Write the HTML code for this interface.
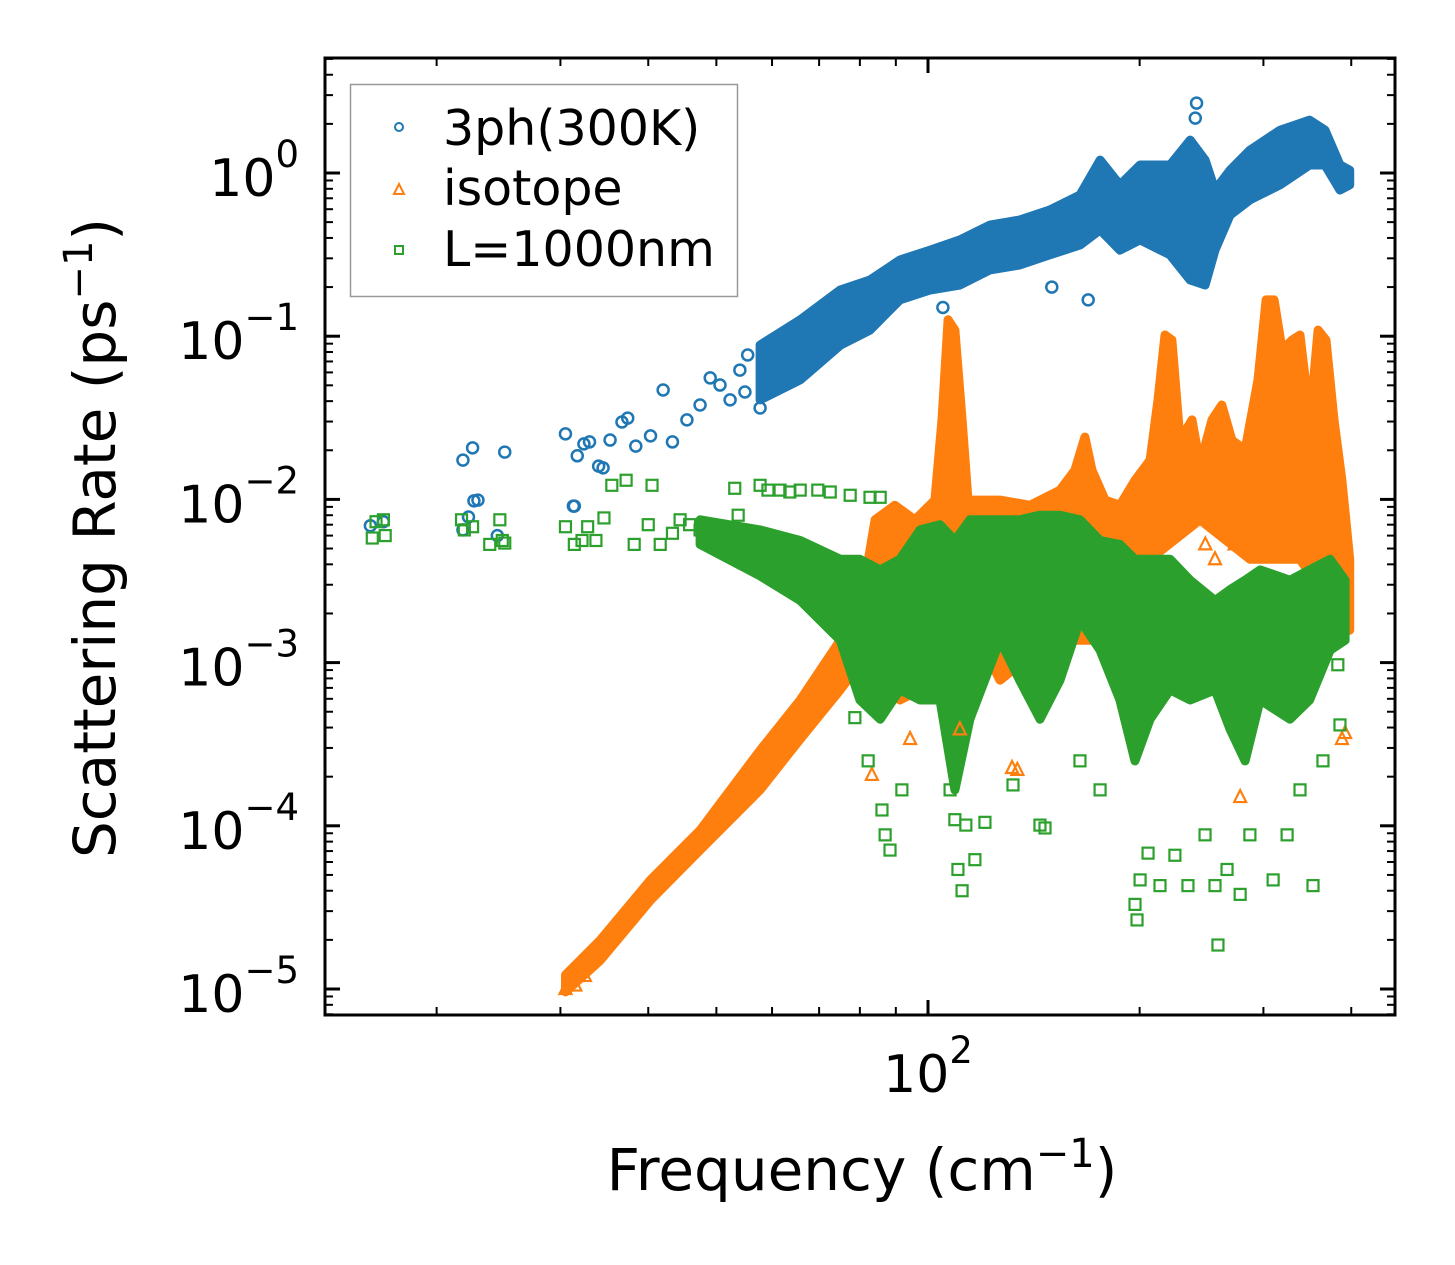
<!DOCTYPE html>
<html><head><meta charset="utf-8"><style>
body{margin:0;background:#fff}
svg{display:block}
text{font-family:"DejaVu Sans","Liberation Sans",sans-serif;fill:#000}
</style></head><body>
<svg id="chart" width="1455" height="1265" viewBox="0 0 1455 1265" xmlns="http://www.w3.org/2000/svg">
<rect width="1455" height="1265" fill="#fff"/>
<g id="bands"></g>
<g id="marks"></g>
<g id="axes"></g>
<g id="legend">
  <rect x="350.5" y="84.5" width="387" height="212" fill="#fff" stroke="#999" stroke-width="1.5"/>
  <g>
    <circle cx="399" cy="127" r="4" fill="none" stroke="#1f77b4" stroke-width="2"/>
    <text x="443" y="145" font-size="49">3ph(300K)</text>
  </g>
  <g>
    <path d="M394,194 L399,184 L404,194 Z" fill="none" stroke="#ff7f0e" stroke-width="2"/>
    <text x="443" y="205" font-size="49">isotope</text>
  </g>
  <g>
    <rect x="395" y="246" width="8" height="8" fill="none" stroke="#2ca02c" stroke-width="2"/>
    <text x="443" y="266" font-size="49">L=1000nm</text>
  </g>
</g>
<text x="862" y="1190" font-size="58" text-anchor="middle">Frequency (cm<tspan font-size="40" dy="-23">−1</tspan><tspan dy="23">)</tspan></text>
<text transform="translate(115,538) rotate(-90)" font-size="58" text-anchor="middle">Scattering Rate (ps<tspan font-size="40" dy="-23">−1</tspan><tspan dy="23">)</tspan></text>
</svg>
<script>
// ---- data ----
const blueBandFreq=[57.7,65.8,75.0,82.7,91.2,100.7,111,122.5,135,149,164.5,175.7,187.5,200.3,221,236,247.8,256,269,287,316.7,349,367,385.5,398];
const blueBandHigh=[0.0883,0.126,0.192,0.221,0.293,0.337,0.389,0.48,0.515,0.593,0.733,1.2,0.845,1.12,1.12,1.59,1.2,0.787,1.04,1.38,1.83,2.11,1.83,1.12,1.04];
const blueBandLow=[0.0407,0.054,0.088,0.109,0.167,0.192,0.206,0.255,0.273,0.315,0.362,0.448,0.337,0.389,0.315,0.221,0.206,0.337,0.553,0.684,0.845,1.12,1.12,0.787,0.845];
const bluePtFreq=[16.1,16.8,21.8,22.2,22.6,21.8,22.5,22.9,24.4,25.0,30.5,31.3,31.4,31.7,32.4,33.0,34.0,34.5,35.3,36.7,37.4,38.4,40.3,42.0,43.3,45.4,47.4,49.0,50.6,52.3,54.0,55.4,57.7,59.6,54.9,169,241,240,105,150];
const bluePtVal=[0.0069,0.0073,0.0065,0.0078,0.0098,0.0174,0.0207,0.0099,0.0060,0.0195,0.0252,0.0091,0.0091,0.0185,0.0219,0.0225,0.016,0.0156,0.0231,0.0298,0.0315,0.0212,0.0245,0.0468,0.0225,0.0307,0.0379,0.0555,0.0502,0.0407,0.062,0.0767,0.0363,0.0455,0.0455,0.167,2.68,2.17,0.15,0.2];

const orangeUpFreq=[30.5,34.2,40.3,47.4,57.7,65.8,75.0,80,84.1,89.7,95.8,102.3,104.7,106.8,109.2,111.8,114,126.6,139.7,154.1,161.8,167.2,171.1,178.6,187.5,197,207,212.4,217.3,222.3,228.3,237.4,243.7,253.5,261.8,270.6,282.5,294.7,302.6,310.7,318.9,329.6,338.2,349.4,358.8,368.3,378,388,398];
const orangeUpVal=[1.22e-5,2.0e-5,4.66e-5,9.4e-5,2.9e-4,5.9e-4,1.37e-3,0.0021,0.0075,0.0092,0.0075,0.0099,0.0307,0.126,0.109,0.0307,0.0099,0.0099,0.0092,0.0114,0.0151,0.0241,0.0151,0.0099,0.0092,0.0131,0.0174,0.0407,0.1017,0.0948,0.0231,0.0307,0.0163,0.0307,0.0379,0.0231,0.0201,0.054,0.167,0.167,0.0823,0.0948,0.1017,0.0307,0.109,0.0948,0.0307,0.0131,0.0043];
const orangeLowFreq=[30.5,34.2,40.3,47.4,57.7,65.8,75.0,82.7,91.2,104,111,126.6,149,175.7,207,243.7,287,338,398];
const orangeLowVal=[0.96e-5,1.5e-5,3.5e-5,7.1e-5,1.66e-4,3.4e-4,6.8e-4,1.19e-3,5.9e-4,7.8e-4,2.4e-3,7.8e-4,1.37e-3,1.37e-3,4.3e-3,7.5e-3,4.3e-3,4.3e-3,1.58e-3];
const orangePtFreq=[388,392,278,131.7,134,256,248,273,83.2,94.3,111,30.5,31.5,32.5];
const orangePtVal=[3.4e-4,3.7e-4,1.5e-4,2.26e-4,2.2e-4,4.3e-3,5.3e-3,5.3e-3,2.05e-4,3.4e-4,3.9e-4,1.0e-5,1.05e-5,1.2e-5];

const greenBandFreq=[47.4,57.7,65.8,75,80,85.5,91.2,97.4,104,109.2,114.7,126.6,135,144.3,154.1,164.5,175.7,187.5,197,207,221,236,256,269,282.5,296.8,327.3,349,373.2,392];
const greenBandHigh=[7.5e-3,6.5e-3,5.6e-3,4.3e-3,4.3e-3,3.7e-3,4.3e-3,6.5e-3,7.0e-3,5.6e-3,7.5e-3,7.5e-3,7.5e-3,8.0e-3,8.0e-3,7.5e-3,5.6e-3,5.3e-3,4.3e-3,4.3e-3,4.3e-3,3.2e-3,2.4e-3,2.8e-3,3.2e-3,3.7e-3,3.2e-3,3.7e-3,4.3e-3,3.2e-3];
const greenBandLow=[5.3e-3,3.4e-3,2.4e-3,1.37e-3,5.9e-4,4.5e-4,6.8e-4,5.9e-4,5.9e-4,1.66e-4,4.5e-4,1.37e-3,7.8e-4,4.5e-4,7.8e-4,1.82e-3,1.19e-3,5.9e-4,2.5e-4,4.5e-4,6.8e-4,5.9e-4,6.8e-4,3.9e-4,2.5e-4,5.9e-4,4.5e-4,5.9e-4,1.19e-3,1.37e-3];
const greenPtFreq=[16.2,16.4,16.8,16.9,21.7,21.9,22.5,23.8,24.6,24.8,25.0,30.5,31.4,32.2,32.8,33.7,34.6,35.5,37.2,38.2,40.0,40.5,41.6,43.3,44.4,45.8,47.4,49.3,50.9,53.1,53.7,57.7,59.2,61.6,63.6,65.8,69.7,72.6,77.5,82.7,85.5,
78.7,82.2,86.0,86.9,88.3,91.8,95.8,107.5,109.2,110.3,111.8,113.2,116.6,120.5,132.1,144.3,146.7,164.5,175.7,197,198.3,200.3,205.6,213.8,224.5,234.3,247.8,256,266.3,278,287,309.7,324.2,338.2,352.9,364.6,385.5,382.8,258.5];
const greenPtVal=[5.8e-3,7.3e-3,7.5e-3,6.0e-3,7.5e-3,6.5e-3,6.8e-3,5.3e-3,7.5e-3,5.6e-3,5.4e-3,6.8e-3,5.3e-3,5.6e-3,6.8e-3,5.6e-3,7.7e-3,0.0122,0.0131,5.3e-3,7.0e-3,0.0122,5.3e-3,6.2e-3,7.5e-3,7.0e-3,6.5e-3,5.6e-3,6.05e-3,0.0117,8.0e-3,0.0122,0.0114,0.0114,0.0111,0.0114,0.0114,0.0111,0.0106,0.0103,0.0103,
4.6e-4,2.5e-4,1.25e-4,8.8e-5,7.1e-5,1.66e-4,6.8e-4,1.66e-4,1.09e-4,5.4e-5,4.0e-5,1.01e-4,6.2e-5,1.05e-4,1.78e-4,1.01e-4,9.7e-5,2.5e-4,1.66e-4,3.3e-5,2.65e-5,4.66e-5,6.8e-5,4.3e-5,6.6e-5,4.3e-5,8.8e-5,4.3e-5,5.4e-5,3.8e-5,8.8e-5,4.66e-5,8.8e-5,1.66e-4,4.3e-5,2.5e-4,4.15e-4,9.7e-4,1.86e-5];

const yTickExp=[0,-1,-2,-3,-4,-5];
const yTickLabels=["0","−1","−2","−3","−4","−5"];
const xMinorTicks=[20,30,40,50,60,70,80,90,200,300,400];
const xMajorTicks=[100];
const xMajorLabels=["2"];

// ---- scales ----
const L=325,R=1395,T=58,B=1015;
const X=f=>928+703*Math.log10(f/100);
const Y=v=>173-163.2*Math.log10(v);
const NS="http://www.w3.org/2000/svg";
function mk(tag,parent){const e=document.createElementNS(NS,tag);parent.appendChild(e);return e;}
const bands=document.getElementById('bands'),marks=document.getElementById('marks'),axes=document.getElementById('axes');

function bandPoly(fs,hi,fs2,lo,color,name){
  const pts=[];
  for(let i=0;i<fs.length;i++)pts.push(X(fs[i]).toFixed(1)+','+Y(hi[i]).toFixed(1));
  for(let i=fs2.length-1;i>=0;i--)pts.push(X(fs2[i]).toFixed(1)+','+Y(lo[i]).toFixed(1));
  const p=mk('polygon',bands);
  
  
  p.setAttribute('points',pts.join(' '));
  p.setAttribute('fill',color);p.setAttribute('stroke',color);p.setAttribute('stroke-width','9');p.setAttribute('stroke-linejoin','round');
}
bandPoly(blueBandFreq,blueBandHigh,blueBandFreq,blueBandLow,'#1f77b4','band-3ph');
bandPoly(orangeUpFreq,orangeUpVal,orangeLowFreq,orangeLowVal,'#ff7f0e','band-isotope');
bandPoly(greenBandFreq,greenBandHigh,greenBandFreq,greenBandLow,'#2ca02c','band-l1000nm');

for(let i=0;i<bluePtFreq.length;i++){
  const c=mk('circle',marks);
  
  
  c.setAttribute('cx',X(bluePtFreq[i]));c.setAttribute('cy',Y(bluePtVal[i]));c.setAttribute('r',5.5);
  c.setAttribute('fill','none');c.setAttribute('stroke','#1f77b4');c.setAttribute('stroke-width','2.5');
}
for(let i=0;i<orangePtFreq.length;i++){
  const x=X(orangePtFreq[i]),y=Y(orangePtVal[i]);
  const p=mk('path',marks);
  
  
  p.setAttribute('d',`M${x-6},${y+5} L${x},${y-7} L${x+6},${y+5} Z`);
  p.setAttribute('fill','none');p.setAttribute('stroke','#ff7f0e');p.setAttribute('stroke-width','2.2');
}
for(let i=0;i<greenPtFreq.length;i++){
  const x=X(greenPtFreq[i]),y=Y(greenPtVal[i]);
  const r=mk('rect',marks);
  
  
  r.setAttribute('x',x-5.5);r.setAttribute('y',y-5.5);r.setAttribute('width',11);r.setAttribute('height',11);
  r.setAttribute('fill','none');r.setAttribute('stroke','#2ca02c');r.setAttribute('stroke-width','2.2');
}

// ---- axes ----
function line(x1,y1,x2,y2,w,name){const l=mk('line',axes);
  
  
  l.setAttribute('x1',x1);l.setAttribute('y1',y1);l.setAttribute('x2',x2);l.setAttribute('y2',y2);l.setAttribute('stroke','#000');l.setAttribute('stroke-width',w);}
const fr=mk('rect',axes);


fr.setAttribute('x',L);fr.setAttribute('y',T);fr.setAttribute('width',R-L);fr.setAttribute('height',B-T);fr.setAttribute('fill','none');fr.setAttribute('stroke','#000');fr.setAttribute('stroke-width','3');

for(let k=0;k<yTickExp.length;k++){
  const e=yTickExp[k],y=Y(Math.pow(10,e));
  line(L,y,L+15,y,3,'y-major-tick');line(R,y,R-15,y,3,'y-major-tick');
  const t=mk('text',axes);
  
  
  t.setAttribute('x',299);t.setAttribute('y',y+23);t.setAttribute('font-size','52');t.setAttribute('text-anchor','end');
  t.textContent='10';
  const s=mk('tspan',t);
  s.setAttribute('font-size','37');s.setAttribute('dy','-29');
  s.textContent=yTickLabels[k];
}
for(let e=-6;e<=0;e++){for(let m=2;m<=9;m++){const y=Y(m*Math.pow(10,e));if(y<T||y>B)continue;
  line(L,y,L+8,y,2,'y-minor-tick');line(R,y,R-8,y,2,'y-minor-tick');}}
for(let k=0;k<xMajorTicks.length;k++){const x=X(xMajorTicks[k]);
  line(x,B,x,B-15,3,'x-major-tick');line(x,T,x,T+15,3,'x-major-tick');
  const t=mk('text',axes);
  
  
  t.setAttribute('x',x);t.setAttribute('y',1092);t.setAttribute('font-size','52');t.setAttribute('text-anchor','middle');
  t.textContent='10';
  const s=mk('tspan',t);
  s.setAttribute('font-size','37');s.setAttribute('dy','-29');
  s.textContent=xMajorLabels[k];
}
for(const f of xMinorTicks){const x=X(f);line(x,B,x,B-8,2,'x-minor-tick');line(x,T,x,T+8,2,'x-minor-tick');}
</script>
</body></html>
